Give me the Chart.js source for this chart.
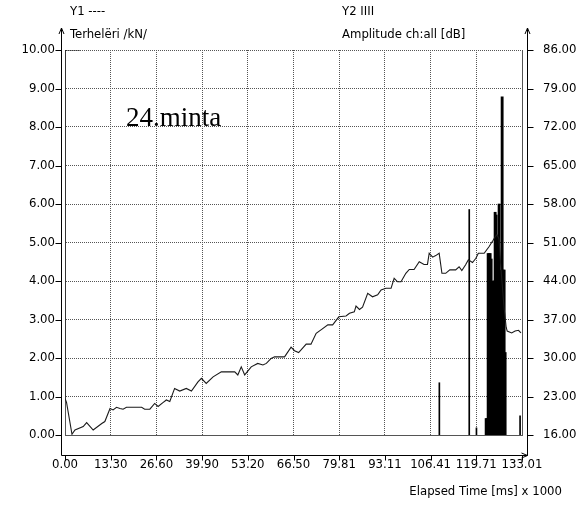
<!DOCTYPE html>
<html>
<head>
<meta charset="utf-8">
<script src="https://cdn.jsdelivr.net/npm/chart.js@4.4.1/dist/chart.umd.min.js"></script>
<style>
html,body{margin:0;padding:0;background:#fff;}
#wrap{position:relative;width:587px;height:505px;}
</style>
</head>
<body>
<div id="wrap"><canvas id="c" width="587" height="505"></canvas></div>
<script>
// ---- data ----
const xMax = 133.01;
const xTickLabels = ['0.00','13.30','26.60','39.90','53.20','66.50','79.81','93.11','106.41','119.71','133.01'];
const y1TickLabels = ['0.00','1.00','2.00','3.00','4.00','5.00','6.00','7.00','8.00','9.00','10.00'];
const y2TickLabels = ['16.00','23.00','30.00','37.00','44.00','51.00','58.00','65.00','72.00','79.00','86.00'];

// Y1: load (kN) vs elapsed time (ms x 1000)
const loadTime = [4.4,0,0,0.44,2.03,2.9,5.3,6.3,8.2,10.7,11.6,13.1,14.0,15.0,16.0,16.9,17.9,22.3,23.2,24.7,26.1,27.1,28.5,29.5,30.5,31.9,33.4,35.3,36.8,38.7,39.7,41.1,43.1,45.5,49.4,50.3,51.3,52.3,54.2,56.1,57.6,58.6,60.0,61.0,63.9,65.8,66.8,68.0,70.2,71.6,73.1,74.5,76.5,77.9,79.7,81.8,82.8,84.2,84.7,85.7,86.6,88.1,89.5,91.0,92.0,93.4,94.9,95.8,96.8,97.8,99.2,100.2,101.6,103.1,104.5,105.5,106.0,107.0,107.9,108.9,109.7,110.8,112.0,113.7,114.7,115.5,116.6,117.4,118.6,119.6,120.3,122.0,123.4,124.6,125.2,125.7,126.3,126.9,127.8,128.4,128.7,130.0,131.0,132.0,132.7];
const loadKN   = [10.0,10.0,0.95,0.85,0.02,0.13,0.22,0.32,0.13,0.30,0.35,0.69,0.65,0.72,0.69,0.67,0.72,0.72,0.67,0.67,0.82,0.74,0.84,0.91,0.87,1.21,1.14,1.21,1.14,1.38,1.47,1.34,1.51,1.64,1.64,1.56,1.77,1.56,1.77,1.86,1.82,1.86,1.99,2.03,2.03,2.28,2.19,2.14,2.36,2.36,2.64,2.73,2.86,2.86,3.07,3.09,3.16,3.20,3.35,3.26,3.32,3.68,3.59,3.64,3.77,3.81,3.81,4.07,3.98,3.98,4.20,4.30,4.30,4.50,4.43,4.43,4.72,4.62,4.66,4.72,4.20,4.20,4.29,4.29,4.37,4.27,4.42,4.55,4.48,4.59,4.72,4.72,4.89,5.06,5.15,5.20,5.10,4.30,3.30,2.80,2.70,2.65,2.70,2.72,2.65];

// Y2: hit amplitudes (dB) vs elapsed time
const hitTime = [109.1,117.8,119.9,122.26,122.55,122.84,123.13,123.42,123.71,124.0,124.29,124.58,124.87,125.16,125.45,125.74,126.03,126.32,126.62,126.91,127.2,127.49,127.78,132.6];
const hitDB   = [25.5,57.0,17.3,19,19,49,49,49,48,33,44,44,56.5,56,52,52,58,30,46,77.5,46,46,31,19.5];

const Y2_BASE = 16;
const FONT = '"DejaVu Sans Condensed", "DejaVu Sans", sans-serif';
const isDense = t => t > 122 && t < 128;

const axisPlugin = {
  id: 'axisDeco',
  afterDraw(chart) {
    const ctx = chart.ctx;
    const ca = chart.chartArea;
    const xs = chart.scales.x, y1 = chart.scales.y, y2 = chart.scales.y2;
    const lx = Math.round(ca.left) - 3.5;
    const rx = Math.round(ca.right) + 5.5;
    const by = Math.round(ca.bottom) + 20.5;
    const topY = ca.top - 22;
    ctx.save();
    ctx.strokeStyle = '#000';
    ctx.lineWidth = 1;
    ctx.beginPath();
    ctx.moveTo(lx, topY); ctx.lineTo(lx, by);
    ctx.lineTo(rx, by);
    ctx.moveTo(rx, topY); ctx.lineTo(rx, by);
    ctx.moveTo(lx - 2.5, topY + 6); ctx.lineTo(lx, topY); ctx.lineTo(lx + 2.5, topY + 6);
    ctx.moveTo(rx - 2.5, topY + 6); ctx.lineTo(rx, topY); ctx.lineTo(rx + 2.5, topY + 6);
    ctx.moveTo(rx - 6, by - 2.5); ctx.lineTo(rx, by); ctx.lineTo(rx - 6, by + 2.5);
    y1.ticks.forEach(t => { const p = Math.round(y1.getPixelForValue(t.value)) + 0.5; ctx.moveTo(lx - 6, p); ctx.lineTo(lx, p); });
    y2.ticks.forEach(t => { const p = Math.round(y2.getPixelForValue(t.value)) + 0.5; ctx.moveTo(rx, p); ctx.lineTo(rx + 6, p); });
    xs.ticks.forEach(t => { const p = Math.round(xs.getPixelForValue(t.value)) + 0.5; ctx.moveTo(p, by); ctx.lineTo(p, by + 5); });
    ctx.stroke();

    ctx.fillStyle = '#000';
    ctx.font = '13px ' + FONT;
    ctx.textBaseline = 'middle';
    ctx.textAlign = 'left';
    ctx.fillText('Y1 ----', 70, 12);
    ctx.fillText('Terhelëri /kN/', 70, 35);
    ctx.fillText('Y2 IIII', 342, 12);
    ctx.fillText('Amplitude ch:all [dB]', 342, 35);
    ctx.textAlign = 'right';
    ctx.fillText('Elapsed Time [ms] x 1000', 562, 492);
    ctx.font = '27px "Liberation Serif", "Times New Roman", serif';
    ctx.textAlign = 'left';
    ctx.fillText('24.minta', 126, 119);
    ctx.restore();
  }
};

const gridCfg = { color: '#555', lineWidth: 1, drawTicks: false };
const hits = hitTime.map((t, i) => ({ x: t, y: [Y2_BASE, hitDB[i]] }));

new Chart(document.getElementById('c'), {
  type: 'line',
  data: {
    datasets: [
      {
        type: 'bar', label: 'Amplitude', yAxisID: 'y2',
        data: hits.filter(h => !isDense(h.x)),
        backgroundColor: '#000', borderWidth: 0, barThickness: 1, order: 2
      },
      {
        type: 'bar', label: 'Amplitude (burst)', yAxisID: 'y2',
        data: hits.filter(h => isDense(h.x)),
        backgroundColor: '#000', borderWidth: 0, barThickness: 2.2, order: 3
      },
      {
        type: 'line', label: 'Load', yAxisID: 'y',
        data: loadTime.map((t, i) => ({ x: t, y: loadKN[i] })),
        borderColor: '#1a1a1a', borderWidth: 1.1, pointRadius: 0, tension: 0, fill: false, order: 1
      }
    ]
  },
  options: {
    responsive: false,
    animation: false,
    devicePixelRatio: 1,
    layout: { padding: { top: 50, left: 0, right: 0, bottom: 0 } },
    plugins: { legend: { display: false }, tooltip: { enabled: false } },
    scales: {
      x: {
        type: 'linear', min: 0, max: xMax, offset: false,
        afterFit(s) { s.height = 70; },
        afterBuildTicks(s) { s.ticks = xTickLabels.map((l, i) => ({ value: i * xMax / 10 })); },
        ticks: {
          autoSkip: false, maxRotation: 0, padding: 22,
          color: '#000', font: { family: FONT, size: 13 },
          callback: (v, i) => xTickLabels[i]
        },
        grid: { ...gridCfg, offset: false },
        border: { display: true, dash: [1, 1], color: '#555' }
      },
      y: {
        position: 'left', min: 0, max: 10,
        afterFit(s) { s.width = 65; },
        afterBuildTicks(s) { s.ticks = y1TickLabels.map((l, i) => ({ value: i })); },
        ticks: { padding: 10, color: '#000', font: { family: FONT, size: 13 }, callback: (v, i) => y1TickLabels[i] },
        grid: { ...gridCfg },
        border: { display: true, dash: [1, 1], color: '#555' }
      },
      y2: {
        position: 'right', min: 16, max: 86,
        afterFit(s) { s.width = 65; },
        afterBuildTicks(s) { s.ticks = y2TickLabels.map((l, i) => ({ value: 16 + 7 * i })); },
        ticks: { padding: 13, color: '#000', font: { family: FONT, size: 13 }, callback: (v, i) => y2TickLabels[i] },
        grid: { display: false },
        border: { display: true, dash: [1, 1], color: '#555' }
      }
    }
  },
  plugins: [axisPlugin]
});
</script>
</body>
</html>
